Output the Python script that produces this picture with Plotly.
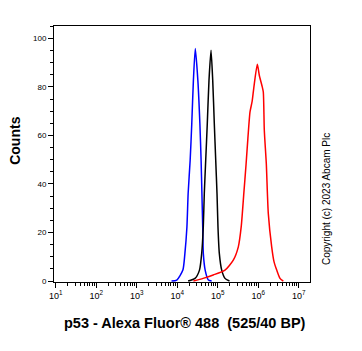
import numpy as np
import plotly.graph_objects as go

# Histogram outlines: x given as log10(fluorescence), y as counts
blue_log10 = [3.86, 3.99, 4.14, 4.19, 4.24, 4.27, 4.32, 4.36, 4.40, 4.447, 4.51, 4.56, 4.59, 4.61, 4.63, 4.645, 4.69, 4.77, 4.85]
blue_counts = [0, 0.4, 4.5, 11.4, 22.3, 36.1, 49.8, 64.9, 82.7, 95.8, 82.7, 64.9, 49.8, 36.1, 22.3, 11.4, 4.5, 0.4, 0]

black_log10 = [4.27, 4.44, 4.55, 4.605, 4.644, 4.669, 4.704, 4.743, 4.785, 4.835, 4.877, 4.916, 4.951, 4.983, 5.007, 5.04, 5.099, 5.18, 5.29]
black_counts = [0, 1.1, 4.5, 11.4, 22.3, 36.1, 49.8, 64.9, 82.7, 95.1, 82.7, 64.9, 49.8, 36.1, 22.3, 11.4, 4.5, 1.1, 0]

red_log10 = [4.40, 4.64, 4.89, 5.18, 5.385, 5.509, 5.58, 5.645, 5.70, 5.745, 5.798, 5.85, 5.889, 5.978,
             6.027, 6.10, 6.126, 6.151, 6.20, 6.249, 6.333, 6.39, 6.457, 6.538, 6.62]
red_counts = [0, 1.1, 2.5, 4.5, 8.6, 14.1, 22.3, 36.1, 48.0, 58.7, 69.7, 74.0, 79.3, 89.3,
              84.8, 80.0, 77.9, 62.0, 48.4, 27.9, 14.1, 8.0, 4.5, 1.1, 0]

x_major = [1e1, 1e2, 1e3, 1e4, 1e5, 1e6, 1e7]
x_major_text = ["10<sup>1</sup>", "10<sup>2</sup>", "10<sup>3</sup>", "10<sup>4</sup>",
                "10<sup>5</sup>", "10<sup>6</sup>", "10<sup>7</sup>"]
y_major = [0, 20, 40, 60, 80, 100]

x_title = "p53 - Alexa Fluor® 488\u00a0\u00a0(525/40 BP)"
y_title = "Counts"
copyright_text = "Copyright (c) 2023 Abcam Plc"

series = [
    (blue_log10, blue_counts, "#0000ff"),
    (black_log10, black_counts, "#000000"),
    (red_log10, red_counts, "#ff0000"),
]

fig = go.Figure()
for lx, cy, col in series:
    fig.add_trace(go.Scatter(
        x=np.power(10.0, np.array(lx)), y=cy, mode="lines",
        line=dict(color=col, width=1.5, shape="spline", smoothing=0.6),
        showlegend=False, hoverinfo="skip"))

x_minor = [m * d for d in [1, 10, 100, 1e3, 1e4, 1e5, 1e6] for m in range(2, 10)]

fig.update_layout(
    width=362, height=351,
    margin=dict(l=54, r=52, t=26, b=69),
    paper_bgcolor="white", plot_bgcolor="white",
    font=dict(family="Liberation Sans, Arial, sans-serif", color="black"),
    xaxis=dict(
        type="log", range=[0.958, 7.279],
        tickmode="array", tickvals=x_major, ticktext=x_major_text,
        ticks="outside", ticklen=5, tickwidth=1, tickcolor="black",
        tickfont=dict(size=9, color="black"),
        showline=True, linecolor="black", linewidth=1, mirror=True,
        showgrid=False, zeroline=False,
        minor=dict(ticks="outside", ticklen=3, tickwidth=1, tickcolor="black",
                   tickmode="array", tickvals=x_minor, showgrid=False),
    ),
    yaxis=dict(
        range=[-0.4, 105.1],
        tickmode="array", tickvals=y_major,
        ticks="outside", ticklen=5, tickwidth=1, tickcolor="black",
        tickfont=dict(size=8, color="black"),
        showline=True, linecolor="black", linewidth=1, mirror=True,
        showgrid=False, zeroline=False,
        minor=dict(ticks="outside", ticklen=3, tickwidth=1, tickcolor="black",
                   dtick=5, showgrid=False),
    ),
    annotations=[
        dict(text="<b>" + x_title + "</b>", xref="paper", yref="paper",
             x=0.51, y=-0.16, xanchor="center", yanchor="middle",
             showarrow=False, font=dict(size=14.5, color="black")),
        dict(text="<b>" + y_title + "</b>", xref="paper", yref="paper",
             x=-0.15, y=0.55, xanchor="center", yanchor="middle", textangle=-90,
             showarrow=False, font=dict(size=14, color="black")),
        dict(text=copyright_text, xref="paper", yref="paper",
             x=1.0625, y=0.324, xanchor="center", yanchor="middle", textangle=-90,
             showarrow=False, font=dict(size=10, color="black")),
    ],
)

fig.write_html("out.html")
